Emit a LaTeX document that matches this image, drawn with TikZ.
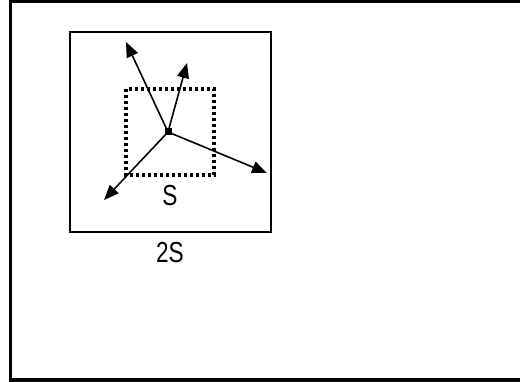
\documentclass[tikz,border=0pt]{standalone}
\usepackage{fontspec}
\setmainfont{Liberation Sans}[FakeStretch=0.78]
\usetikzlibrary{arrows.meta}
\begin{document}
\begin{tikzpicture}[x=1pt,y=-1pt,every node/.style={font=\fontsize{29}{31}\selectfont}]
    \tikzset{
      frame/.style={line width=3.2pt},
      cell/.style={line width=2.2pt},
      half/.style={line width=3.2pt,dash pattern=on 3pt off 3pt},
      source/.style={rectangle,fill=black,inner sep=0pt,minimum size=7pt},
      ray/.style={-{Triangle[length=15pt,width=12pt]},line width=1.6pt}
    }
    \useasboundingbox (0,0) rectangle (520,382);
    \draw[frame] (10.5,1.5) rectangle (540,380);

    \draw[cell] (70,32) rectangle (271,232);
    \draw[half] (126,89) rectangle (214,175);

    \node[source] (src) at (168,132) {};
    \coordinate (r1) at (126,42);
    \coordinate (r2) at (187,63);
    \coordinate (r3) at (267,173);
    \coordinate (r4) at (104,200);
    \foreach \r in {r1,r2,r3,r4}
      \draw[ray] (src.center) -- (\r);

    \node (s) at (170,196) {S};
    \node (s2) at (170,253) {2S};
  \end{tikzpicture}
\end{document}
